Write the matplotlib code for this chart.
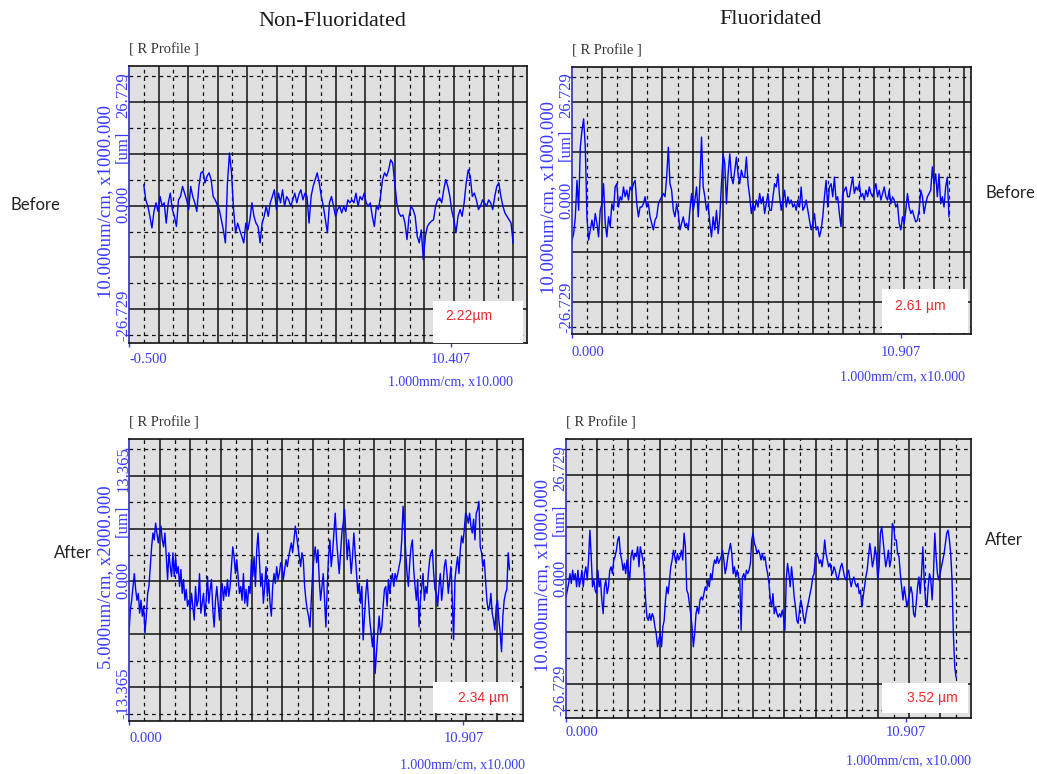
import numpy as np
import matplotlib
matplotlib.use("Agg")
import matplotlib.pyplot as plt
from matplotlib.patches import Rectangle

W, H = 1037, 774

# R profile heights in um, evenly sampled along each trace
nf_before = [4.3, 1.2, -0.1, -2.2, -4.6, -1.2, 0.6, -1.2, 1.9, -0.1, 0.6, -3.6, 0.6, 2.6, -0.8, -2.2,
             -4.3, 1.2, 1.9, 4.0, 2.6, 1.2, -0.8, 4.0, 1.9, 0.6, -1.2, 4.0, 6.8, 7.1, 4.7, 6.1, 6.8,
             5.4, 1.9, 1.2, 0.2, -0.8, -2.9, -5.0, -7.7, 4.7, 10.9, 6.8, -0.8, -5.6, -3.6, -5.0, -6.3,
             -7.7, -3.6, -5.0, -2.9, 0.6, -2.2, -3.6, -4.3, -7.7, -3.6, -2.2, -0.1, -2.2, 0.6, 1.9,
             3.3, -0.8, 2.6, 0.6, 3.3, -0.1, 1.9, 1.2, -0.1, 1.2, 2.6, 0.6, 2.3, 3.3, 1.2, 2.6, 1.9,
             -3.6, 1.9, 4.0, 5.4, 6.8, 4.7, 1.9, -0.1, -2.9, -5.6, 0.6, 1.9, -0.1, -2.2, -0.8, -0.1,
             -1.5, -0.1, -1.2, 1.2, 0.6, 1.2, 0.6, 2.6, -0.1, 1.9, 1.2, 2.6, 0.6, -0.1, 0.6, -2.2,
             -4.3, -0.1, -0.8, 1.9, 5.4, 6.8, 6.1, 7.4, 9.5, 8.8, 4.7, 0.6, -1.5, -2.2, -1.9, -3.6,
             -7.0, -2.2, -0.1, -0.8, -2.2, -6.3, -7.7, -5.0, -11.2, -6.3, -4.3, -3.6, -3.2, -2.9,
             -0.1, 1.2, 1.6, 0.6, 3.3, 5.4, 4.0, 1.9, -1.2, -2.9, -5.6, -2.2, -0.8, -2.2, 0.6, 4.7,
             7.4, 6.1, 1.9, 2.6, 1.2, -0.8, -0.1, 1.2, 0.6, -0.1, 1.2, 0.6, -0.8, 1.9, 4.0, 4.7, 1.9,
             -0.1, -1.5, -2.2, -2.9, -3.6, -7.7]

f_before = [-8.2, -6.8, -3.2, 4.6, -1.8, 11.7, 15.3, 17.8, 11.7, -3.2, -8.2, -6.0, -3.9, -6.0, -2.5,
            -4.6, -7.5, -1.8, -0.4, 3.9, -4.6, -7.5, -3.2, -5.3, -0.4, -1.8, 3.2, 3.9, -1.1, 1.1, 0.4,
            3.2, 1.1, 2.5, 0.4, 3.2, 2.5, 3.9, 4.6, -0.4, -3.2, -1.1, -1.1, -0.4, 1.1, -1.1, -0.4,
            -3.2, -4.6, -6.0, -3.9, -3.2, -0.4, 0.4, 1.1, 1.8, 1.1, 5.3, 11.7, 3.9, 2.5, -1.8, -3.2,
            -0.4, -2.5, -6.0, -4.6, -3.2, -5.3, -4.6, -6.0, -1.8, 1.8, -1.8, 0.4, 3.2, -3.2, 3.9,
            13.9, 3.2, 1.1, -1.8, -0.4, -4.6, -7.5, -3.2, -6.0, -1.8, -6.8, -3.2, 3.9, 10.3, 8.2,
            -0.4, 6.0, 10.3, 5.3, 3.9, 6.8, 9.6, 6.0, 3.9, 6.8, 5.3, 5.3, 9.6, 3.9, 1.1, -2.5, -0.4,
            -1.8, 0.4, -1.1, 1.8, -0.4, 1.1, -2.5, -0.4, 1.8, -1.8, -1.8, 1.1, 3.9, 3.2, 6.0, 1.1,
            -1.8, 0.4, 2.5, -1.1, 1.1, -0.4, 0.4, -1.1, -0.4, -1.8, 0.4, -1.1, 3.2, -1.8, -1.1, 0.4,
            -1.8, -3.9, -6.0, -4.6, -2.5, -6.0, -5.3, -7.5, -6.0, -3.2, 1.1, 4.6, -1.1, 3.2, 3.9,
            1.1, 5.3, 0.4, 1.1, -2.5, -5.3, 1.8, 2.5, 3.2, 1.1, 1.1, 3.2, 5.3, 1.8, 3.2, 2.5, 3.9,
            1.1, 1.8, 0.4, 2.5, 1.1, 3.2, 1.8, 1.1, 2.5, 3.9, 1.1, 2.5, 0.4, 1.8, 3.2, 1.1, 0.4, 2.5,
            -0.4, 1.1, 0.4, -1.1, -0.4, -4.6, -6.0, -3.2, -4.6, -1.8, 1.8, -1.1, -2.5, -1.8, -3.2,
            -4.3, -3.9, -1.8, 2.5, 1.1, -2.5, -0.4, 1.1, 1.8, 2.5, 7.5, 3.9, 6.0, 1.1, 6.0, -0.4,
            1.1, -1.1, 3.2, 5.3, -3.2]

nf_after = [-5.2, -2.9, -1.9, -0.5, 0.8, -0.8, -1.9, -1.2, -3.2, -1.9, -3.5, -2.5, -5.2, -3.5, -1.2,
            -0.5, 1.5, 3.5, 4.9, 4.2, 5.9, 4.9, 3.9, 4.9, 5.6, 4.2, 3.5, 4.9, 2.5, 0.2, 2.9, 1.5, 0.5,
            2.9, 0.5, 2.5, 0.8, 1.5, -0.5, 1.2, -1.2, 0.2, -1.9, -0.8, -2.5, -1.9, -2.9, -1.2, -2.5,
            -3.9, -0.5, -2.5, -1.9, 0.8, -3.2, -2.2, -1.2, -3.5, -1.9, 0.5, -2.2, -0.8, 0.2, -2.9,
            -4.6, -1.9, -0.5, -2.2, -3.9, -0.8, -0.2, -1.9, -0.5, -1.5, 0.2, -1.5, -0.5, 1.5, 3.5,
            2.5, 0.8, 2.2, 0.5, -1.2, -0.5, -1.9, 0.8, -2.2, -0.8, -2.5, -0.5, -1.2, 2.2, 0.5, 2.5,
            -0.5, 3.2, 4.9, 2.2, -0.5, 0.8, -2.2, -0.5, 1.5, -1.5, 0.2, -2.2, -3.5, -0.5, 0.8, -0.2,
            1.5, 0.2, 0.8, 1.9, 1.5, 0.2, 1.2, 2.2, 1.5, 2.5, 3.2, 3.9, 2.9, 4.2, 5.6, 4.6, 3.5, 2.5,
            1.5, 2.9, 2.2, -0.5, -1.9, -2.9, -3.5, -4.6, -1.9, 0.8, 2.5, 3.5, 1.9, 3.2, 0.2, -1.9,
            -0.5, 0.8, -1.9, -4.6, -0.5, 2.5, 4.2, 1.5, 2.9, 4.9, 6.9, 4.2, 2.5, 0.8, 2.9, 4.9, 5.9,
            7.3, 4.9, 2.2, 4.2, 2.9, 0.8, 2.5, 4.9, 2.9, 0.8, -1.2, -0.2, -2.2, -0.5, -5.9, -3.5,
            -1.2, 0.2, -1.9, -3.9, -5.2, -6.6, -4.9, -9.3, -7.3, -5.2, -3.5, -5.2, -4.6, -2.5, -0.8,
            -0.5, -2.5, 0.2, -1.2, 0.2, 0.8, -0.5, 0.8, 0.2, 0.8, 1.5, 2.2, 4.2, 7.6, 5.6, 2.9, 0.8,
            -0.5, 1.9, 3.5, 4.2, 1.2, -0.5, -1.9, 0.2, -4.6, -1.9, -0.5, 0.8, -1.9, -0.5, -1.2, 0.8,
            2.2, 2.9, 3.2, 0.8, -0.8, -1.2, -2.5, -0.5, 0.8, -1.9, -0.5, 1.5, 2.2, 0.8, -1.2, 0.2,
            1.5, -1.9, -5.9, 0.2, 1.5, 2.5, 0.8, 3.2, 4.6, 3.9, 5.2, 6.9, 6.6, 5.9, 6.9, 5.6, 4.9,
            6.3, 4.2, 6.9, 7.3, 8.1, 3.5, 2.9, 1.5, 2.2, 0.2, -1.9, -2.9, -2.5, -1.2, -3.2, -3.9,
            -4.9, -2.5, -1.9, -3.9, -5.2, -7.1, -3.5, -1.9, -1.2, -0.8, 2.9, 1.2]

f_after = [-3.6, -2.2, -0.8, 1.2, -0.8, 1.9, -0.1, 1.2, -1.5, 1.9, -1.5, -0.1, 1.9, -1.5, 1.2, 2.6,
           -0.1, 4.0, 10.1, 4.7, -1.5, -0.1, -2.2, -2.9, 1.9, -1.5, -0.1, -4.2, -7.0, -1.5, -0.1,
           -2.9, -1.5, 1.9, 2.6, 1.2, 4.0, 4.7, 6.0, 8.1, 8.8, 5.3, 4.0, 1.9, 3.3, 1.2, 4.0, 1.9,
           -0.1, 4.7, 6.0, 4.0, 5.3, 4.7, 6.7, 2.6, 6.7, 5.3, 4.0, 1.2, -4.2, -7.7, -8.4, -7.0, -8.4,
           -7.0, -7.7, -9.7, -11.1, -13.8, -12.5, -11.1, -13.8, -9.7, -8.4, -4.2, -1.5, -2.9, -0.1,
           2.6, 4.0, 6.0, 4.7, 3.3, 5.3, 4.0, 4.7, 6.0, 4.0, 9.5, 6.7, -2.2, -2.9, -4.9, -7.0, -9.7,
           -13.8, -11.1, -7.0, -5.6, -7.0, -4.2, -3.6, -4.2, -2.9, -1.5, -2.2, -0.1, -1.5, 1.2, -0.1,
           2.6, 4.0, 3.3, 4.7, 3.3, 4.0, 4.7, 6.0, 4.0, 1.2, 2.6, 4.7, 6.0, 7.4, 5.3, 1.2, 2.6, 0.5,
           1.9, 0.5, -0.1, -10.4, 0.5, 1.2, -0.1, 1.9, 1.2, 1.9, 3.3, 8.1, 9.5, 7.4, 6.7, 5.3, 6.0,
           5.3, 4.0, 5.3, 4.0, 4.7, 2.6, 1.2, -0.8, -4.2, -5.6, -2.9, -7.0, -5.6, -7.0, -7.7, -7.0,
           -7.7, -6.3, -7.7, -10.4, -0.1, 3.3, 1.2, -1.5, 2.6, -0.1, -3.6, -5.6, -8.4, -9.0, -6.3,
           -4.2, -5.6, -7.7, -9.0, -7.0, -5.6, -4.2, -2.9, -1.5, 0.5, 1.2, 4.7, 5.3, 4.7, 3.3, 4.0,
           2.6, 4.7, 8.1, 5.3, 4.0, 2.6, 3.3, 1.9, 1.2, 2.6, 1.9, 0.5, -0.1, 1.2, 2.6, 3.3, 1.9, 0.5,
           -0.1, 1.2, 1.9, -0.1, -1.5, -0.1, 0.5, -0.8, -1.5, -0.8, -2.9, -2.2, -5.6, -3.6, -1.5,
           0.5, 1.9, 4.7, 7.4, 5.3, 2.6, 4.0, 6.7, 4.7, -0.1, 2.6, 9.5, 10.8, 8.1, 5.3, 2.6, 4.0,
           6.0, 2.6, 4.0, 11.5, 10.8, 8.1, 8.1, 5.3, 4.7, 1.2, -1.5, -4.2, -1.5, -3.6, -5.6, -4.2,
           -2.9, -1.5, -2.9, -7.0, -7.7, -4.9, -1.5, 0.5, -2.9, 1.2, 6.7, -0.1, -4.2, -5.6, -1.5,
           1.2, -0.1, -4.2, 1.2, 9.5, 4.7, 1.2, -0.1, 1.2, 2.6, 4.0, 5.3, 7.4, 9.5, 10.1, 8.1, 5.3,
           -0.1, -11.1, -17.9, -20.0]

column_titles = ["Non-Fluoridated", "Fluoridated"]
row_labels = ["Before", "After"]
ra_values = ["2.22\u00b5m", "2.61 \u00b5m", "2.34 \u00b5m", "3.52 \u00b5m"]
x_start_labels = ["-0.500", "0.000", "0.000", "0.000"]
x_mark_values = [10.407, 10.907, 10.907, 10.907]
x_scale_label = "1.000mm/cm, x10.000"
y_scale_labels = ["10.000um/cm, x1000.000", "10.000um/cm, x1000.000",
                  "5.000um/cm, x2000.000", "10.000um/cm, x1000.000"]
y_limit_values = [26.729, 26.729, 13.365, 26.729]

# layout of each panel in pixels: left, top, right, bottom
panels = [
    dict(data=nf_before, box=(129, 66, 527, 343), xlim=(-0.5, 12.97), trace=(0.0, 12.5), ylim=(-28.4, 28.9),
         rabox=(433, 301, 523, 343), ratext=(445, 316), xlab_y=360, scale_xy=(451, 382)),
    dict(data=f_before, box=(572, 67, 971, 334), xlim=(0.0, 13.23), trace=(0.0, 12.5), ylim=(-28.3, 28.9),
         rabox=(882, 289, 968, 333), ratext=(895, 306), xlab_y=352, scale_xy=(903, 377)),
    dict(data=nf_after, box=(129, 439, 523, 721), xlim=(0.0, 12.85), trace=(0.0, 12.41), ylim=(-14.1, 14.4),
         rabox=(433, 682, 520, 713), ratext=(458, 698), xlab_y=738, scale_xy=(463, 765)),
    dict(data=f_after, box=(566, 439, 971, 718), xlim=(0.0, 12.98), trace=(0.0, 12.5), ylim=(-28.4, 28.8),
         rabox=(882, 683, 968, 713), ratext=(907, 698), xlab_y=733, scale_xy=(908, 761)),
]

BLUE_TXT = "#3a3aff"
SERIF = "Liberation Serif"

fig = plt.figure(figsize=(W / 100, H / 100), dpi=100)
fig.patch.set_facecolor("white")


def fx(px):
    return px / W


def fy(py):
    return 1 - py / H


for i, p in enumerate(panels):
    l, t, r, b = p["box"]
    ax = fig.add_axes([fx(l), fy(b), (r - l) / W, (b - t) / H])
    ax.set_facecolor("#e0e0e0")
    ax.set_xlim(*p["xlim"])
    ax.set_ylim(*p["ylim"])

    # grid: half division steps, solid on even, dashed on odd
    x0, x1 = p["xlim"]
    for k, xv in enumerate(np.arange(x0, x1, 0.5)):
        if k == 0:
            continue
        if k % 2 == 0:
            ax.axvline(xv, color="#111111", lw=1.1, zorder=1)
        else:
            ax.axvline(xv, color="#111111", lw=0.9, ls=(0, (3, 3)), zorder=1)
    div = y_limit_values[i] / 5
    for k in range(-5, 6):
        if k % 2 == 0:
            ax.axhline(k * div, color="#111111", lw=1.1, zorder=1)
        else:
            ax.axhline(k * div, color="#111111", lw=0.9, ls=(0, (3, 3)), zorder=1)

    vals = np.array(p["data"])
    xs = np.linspace(p["trace"][0], p["trace"][1], len(vals))
    ax.plot(xs, vals, color="#0000ff", lw=1.0, zorder=2)

    for s in ["top", "right", "bottom"]:
        ax.spines[s].set_color("#111111")
        ax.spines[s].set_linewidth(1.2)
    ax.spines["left"].set_color("#3030b0")
    ax.spines["left"].set_linewidth(1.2)

    ax.set_xticks([x0, x_mark_values[i]])
    ax.set_xticklabels([])
    ax.set_yticks([-y_limit_values[i], 0, y_limit_values[i]])
    ax.set_yticklabels([])
    ax.tick_params(axis="both", length=3, width=1, color=BLUE_TXT, direction="out")

    # Ra value box
    rl, rt, rr, rb = p["rabox"]
    fig.patches.append(Rectangle((fx(rl), fy(rb)), (rr - rl) / W, (rb - rt) / H,
                                 transform=fig.transFigure, facecolor="white", edgecolor="none",
                                 zorder=5))
    fig.text(fx(p["ratext"][0]), fy(p["ratext"][1]), ra_values[i], color="#f02a2a",
             fontsize=10, family="Liberation Sans", ha="left", va="center", zorder=6)

    # header
    fig.text(fx(l), fy(t - 16), "[ R Profile ]", fontsize=10.5, family=SERIF, color="#333333",
             ha="left", va="center")

    # x axis texts
    fig.text(fx(l), fy(p["xlab_y"]), x_start_labels[i], fontsize=10.5, family=SERIF,
             color=BLUE_TXT, ha="left", va="center")
    mark_px = l + (x_mark_values[i] - x0) / (x1 - x0) * (r - l)
    fig.text(fx(mark_px), fy(p["xlab_y"]), f"{x_mark_values[i]:.3f}", fontsize=10.5, family=SERIF,
             color=BLUE_TXT, ha="center", va="center")
    fig.text(fx(p["scale_xy"][0]), fy(p["scale_xy"][1]), x_scale_label, fontsize=10, family=SERIF,
             color=BLUE_TXT, ha="center", va="center")

    # rotated y axis texts
    hgt = b - t
    lim = f"{y_limit_values[i]:.3f}"
    inner_x = l - 6
    for frac, s in [(0.10, "-" + lim), (0.50, "0.000"), (0.71, "[um]"), (0.895, lim)]:
        fig.text(fx(inner_x), fy(b - frac * hgt), s, rotation=90, fontsize=12, family=SERIF,
                 color=BLUE_TXT, ha="center", va="center")
    fig.text(fx(l - 23), fy(b - 0.51 * hgt), y_scale_labels[i], rotation=90, fontsize=13.5,
             family=SERIF, color=BLUE_TXT, ha="center", va="center")

fig.text(fx(332), fy(22), column_titles[0], fontsize=16, family=SERIF, color="#1a1a1a",
         ha="center", va="center")
fig.text(fx(770), fy(19), column_titles[1], fontsize=16, family=SERIF, color="#1a1a1a",
         ha="center", va="center")
fig.text(fx(35), fy(205), row_labels[0], fontsize=12, family="Lato", color="#222222",
         ha="center", va="center")
fig.text(fx(1010), fy(193), row_labels[0], fontsize=12, family="Lato", color="#222222",
         ha="center", va="center")
fig.text(fx(73), fy(553), row_labels[1], fontsize=12, family="Lato", color="#222222",
         ha="center", va="center")
fig.text(fx(1004), fy(540), row_labels[1], fontsize=12, family="Lato", color="#222222",
         ha="center", va="center")

fig.savefig("out.png", dpi=100, facecolor="white")
